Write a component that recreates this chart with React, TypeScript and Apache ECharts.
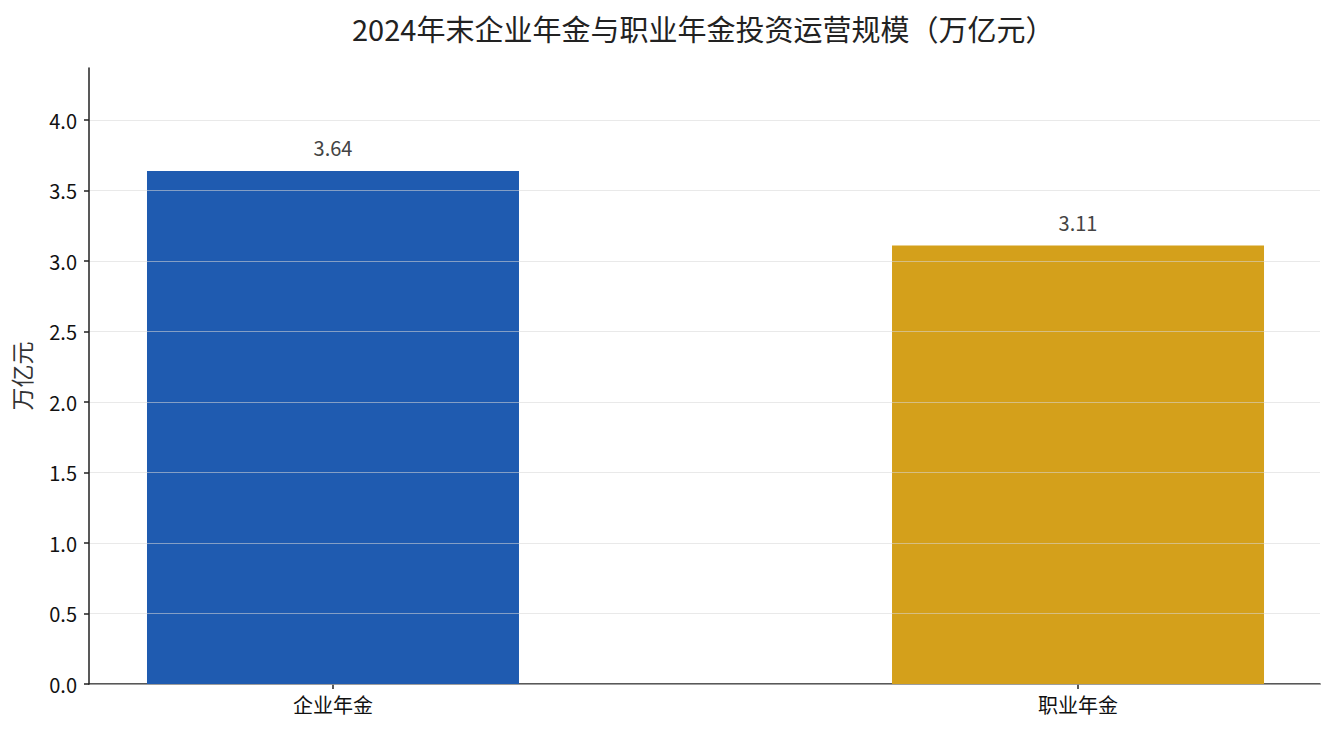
import { useEffect, useRef } from "react";
import * as echarts from "echarts";

// 2024年末 投资运营规模（万亿元）
const categories = ["企业年金", "职业年金"];
const values = [3.64, 3.11];
const barColors = ["#1f5bb0", "#d4a01b"];
const yTicks = [0, 0.5, 1, 1.5, 2, 2.5, 3, 3.5, 4];

const FONT = "'Noto Sans CJK SC', 'Noto Sans', sans-serif";

export default function App() {
  const chartRef = useRef<HTMLDivElement>(null);

  useEffect(() => {
    document.body.style.margin = "0";
    if (!chartRef.current) return;
    const chart = echarts.init(chartRef.current, null, { renderer: "svg" });

    const option = {
      animation: false,
      backgroundColor: "#ffffff",
      textStyle: { fontFamily: FONT },
      title: {
        text: "2024年末企业年金与职业年金投资运营规模（万亿元）",
        left: 347,
        top: 8,
        textStyle: { fontFamily: FONT, fontSize: 29, fontWeight: "normal", color: "#222" },
      },
      grid: { left: 89, right: 15, top: 68, bottom: 51, containLabel: false },
      xAxis: {
        type: "value",
        min: -0.3275,
        max: 1.3248,
        splitLine: { show: false },
        axisLine: { show: true, onZero: false, lineStyle: { color: "#222", width: 1.5 } },
        axisTick: { show: true, customValues: [0, 1], length: 5, lineStyle: { color: "#222", width: 1.5 } },
        axisLabel: {
          customValues: [0, 1],
          formatter: (v: number) => categories[Math.round(v)] ?? "",
          fontFamily: FONT,
          fontSize: 20,
          color: "#111",
          margin: 10,
        },
      },
      yAxis: {
        type: "value",
        min: 0,
        max: 4.37,
        z: 3,
        name: "万亿元",
        nameLocation: "middle",
        nameGap: 57,
        nameRotate: 90,
        nameTextStyle: { fontFamily: FONT, fontSize: 23, color: "#333" },
        axisLine: { show: true, onZero: false, lineStyle: { color: "#222", width: 1.5 } },
        axisTick: { show: true, customValues: yTicks, length: 5, lineStyle: { color: "#222", width: 1.5 } },
        axisLabel: {
          customValues: yTicks,
          formatter: (v: number) => v.toFixed(1),
          fontFamily: FONT,
          fontSize: 20,
          color: "#111",
          margin: 12,
        },
        splitLine: {
          show: true,
          customValues: yTicks,
          lineStyle: { color: "rgba(215,215,215,0.55)", width: 1 },
        },
      },
      series: [
        {
          type: "bar",
          barWidth: 372,
          data: values.map((v, i) => ({
            value: [i, v],
            itemStyle: { color: barColors[i] },
          })),
          label: {
            show: true,
            position: "top",
            distance: 13,
            formatter: (p: any) => p.value[1].toFixed(2),
            fontFamily: FONT,
            fontSize: 20,
            color: "#444",
          },
        },
      ],
    };

    chart.setOption(option);
    return () => {
      chart.dispose();
    };
  }, []);

  return <div ref={chartRef} style={{ width: 1335, height: 735 }} />;
}
